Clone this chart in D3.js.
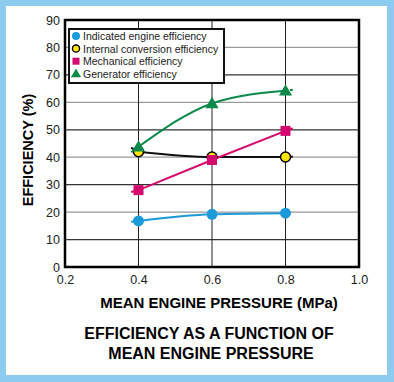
<!DOCTYPE html>
<html><head><meta charset="utf-8">
<script src="https://cdn.jsdelivr.net/npm/d3@7"></script>
<style>body{margin:0;background:#fff}svg{display:block}text{font-family:"Liberation Sans",Arial,sans-serif}</style>
</head><body><svg id="c" width="394" height="382"></svg>
<script>
const pressures = [0.4, 0.6, 0.8];
const seriesNames = ["Indicated engine efficiency","Internal conversion efficiency","Mechanical efficiency","Generator efficiency"];
const indicated = [16.8, 19.2, 19.6];
const internal = [42.0, 40.1, 40.1];
const mechanical = [28.0, 39.0, 49.6];
const generator = [43.8, 59.6, 64.2];
const leftTail = [16.5, 43.5, 27.3, 41.8];
const rightTail = [null, 40.1, 50.3, 64.4];
const xTicks = [0.2, 0.4, 0.6, 0.8, 1.0];
const yTicks = [0,10,20,30,40,50,60,70,80,90];
const colors = ["#1b9ad9", "#111111", "#d4086f", "#0b8a4c"];

const svg = d3.select("#c");
svg.append("rect").attr("width",394).attr("height",382).attr("fill","#8dcbef");
svg.append("rect").attr("x",6).attr("y",6).attr("width",381).attr("height",369).attr("fill","#fff");

const x = d3.scaleLinear().domain([0.2,1.0]).range([65,359]);
const y = d3.scaleLinear().domain([0,90]).range([267,20]);

// grid
const g = svg.append("g");
yTicks.filter(v=>v>0&&v<90).forEach(v=>{
  g.append("line").attr("x1",x(0.2)).attr("x2",x(1.0)).attr("y1",y(v)).attr("y2",y(v))
   .attr("stroke", v%20===0 ? "#9a9a9a" : "#333").attr("stroke-width",1.2);
});
xTicks.filter(v=>v>0.2&&v<1.0).forEach(v=>{
  g.append("line").attr("x1",x(v)).attr("x2",x(v)).attr("y1",y(0)).attr("y2",y(90))
   .attr("stroke","#222").attr("stroke-width",1);
});
svg.append("rect").attr("x",x(0.2)).attr("y",y(90)).attr("width",x(1.0)-x(0.2)).attr("height",y(0)-y(90))
  .attr("fill","none").attr("stroke","#000").attr("stroke-width",2.5);

// axes
const xAxis = d3.axisBottom(x).tickValues(xTicks).tickFormat(d3.format(".1f")).tickSize(0).tickPadding(8);
const yAxis = d3.axisLeft(y).tickValues(yTicks).tickSize(0).tickPadding(4);
const xa = svg.append("g").attr("transform",`translate(0,${y(0)})`).call(xAxis);
const ya = svg.append("g").attr("transform",`translate(${x(0.2)-1},0)`).call(yAxis);
[xa,ya].forEach(a=>{a.select(".domain").remove();a.selectAll("text").attr("font-size",12.5).attr("fill","#222").attr("font-family","Liberation Sans, Arial, sans-serif");});

// axis titles
svg.append("text").attr("transform","translate(33,150) rotate(-90)").attr("text-anchor","middle")
  .attr("font-size",14.5).attr("font-weight","bold").text("EFFICIENCY (%)");
svg.append("text").attr("x",219).attr("y",308).attr("text-anchor","middle")
  .attr("font-size",15).attr("font-weight","bold").text("MEAN ENGINE PRESSURE (MPa)");
svg.append("text").attr("x",209).attr("y",339).attr("text-anchor","middle")
  .attr("font-size",16).attr("font-weight","bold").text("EFFICIENCY AS A FUNCTION OF");
svg.append("text").attr("x",211).attr("y",359).attr("text-anchor","middle")
  .attr("font-size",16).attr("font-weight","bold").text("MEAN ENGINE PRESSURE");

// lines
const data = [indicated, internal, mechanical, generator];
const line = d3.line().x(d=>x(d[0])).y(d=>y(d[1])).curve(d3.curveMonotoneX);
data.forEach((vals,i)=>{
  const pts = pressures.map((p,j)=>[p,vals[j]]);
  svg.append("path").attr("d",line(pts)).attr("fill","none").attr("stroke",colors[i]).attr("stroke-width",2);
  if (leftTail[i]!=null){
    svg.append("line").attr("x1",x(0.38)).attr("x2",x(0.388)).attr("y1",y(leftTail[i])).attr("y2",y(leftTail[i]+(vals[0]-leftTail[i])*0.4))
      .attr("stroke",colors[i]).attr("stroke-width",2);
  }
  if (rightTail[i]!=null){
    svg.append("line").attr("x1",x(0.812)).attr("x2",x(0.82)).attr("y1",y(rightTail[i])).attr("y2",y(rightTail[i]+0.2))
      .attr("stroke",colors[i]).attr("stroke-width",2);
  }
});

function marker(sel, i, cx, cy){
  if (i===0) sel.append("circle").attr("cx",cx).attr("cy",cy).attr("r",5.5).attr("fill","#1b9ad9");
  else if (i===1) sel.append("circle").attr("cx",cx).attr("cy",cy).attr("r",5).attr("fill","#ffe600").attr("stroke","#000").attr("stroke-width",1.5);
  else if (i===2) sel.append("rect").attr("x",cx-5).attr("y",cy-5).attr("width",10).attr("height",10).attr("fill","#d4086f");
  else sel.append("path").attr("d",d3.symbol(d3.symbolTriangle,75)()).attr("transform",`translate(${cx},${cy+1})`).attr("fill","#0b8a4c");
}
const mk = svg.append("g");
data.forEach((vals,i)=>{
  pressures.forEach((p,j)=>marker(mk,i,x(p),y(vals[j])));
});

// legend
const lg = svg.append("g");
lg.append("rect").attr("x",69).attr("y",29).attr("width",155).attr("height",54).attr("fill","#fff").attr("stroke","#111").attr("stroke-width",2);
seriesNames.forEach((n,i)=>{
  const cy = 36 + i*12.6;
  const ms = lg.append("g");
  if (i===0) ms.append("circle").attr("cx",76).attr("cy",cy).attr("r",4).attr("fill","#1b9ad9");
  else if (i===1) ms.append("circle").attr("cx",76).attr("cy",cy).attr("r",3.6).attr("fill","#ffe600").attr("stroke","#000").attr("stroke-width",1.3);
  else if (i===2) ms.append("rect").attr("x",72.5).attr("y",cy-3.5).attr("width",7).attr("height",7).attr("fill","#d4086f");
  else ms.append("path").attr("d",d3.symbol(d3.symbolTriangle,45)()).attr("transform",`translate(76,${cy+0.5})`).attr("fill","#0b8a4c");
  lg.append("text").attr("x",83).attr("y",cy+4).attr("font-size",10.5).attr("fill","#222").text(n);
});
</script></body></html>
